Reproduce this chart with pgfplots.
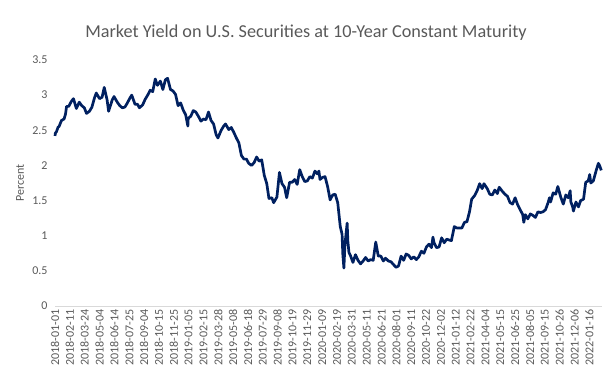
\documentclass[border=0pt]{standalone}
\usepackage{pgfplots}
\pgfplotsset{compat=1.18}
\usepackage{fontspec}
\setmainfont{Carlito}
\definecolor{navy}{HTML}{002060}
\definecolor{txt}{HTML}{595959}
\definecolor{axl}{HTML}{D9D9D9}
\begin{document}
\begin{tikzpicture}[x=1pt,y=1pt]
\useasboundingbox (0,0) rectangle (615,388);
\begin{axis}[
  at={(55pt,82pt)}, anchor=south west,
  width=547pt, height=246pt, scale only axis,
  xmin=0, xmax=1511, ymin=0, ymax=3.5,
  axis x line=bottom, axis y line=left,
  x axis line style={draw=axl, line width=0.8pt, -},
  y axis line style={draw=none},
  major tick length=0pt,
  ytick={0,0.5,1,1.5,2,2.5,3,3.5},
  yticklabels={0,0.5,1,1.5,2,2.5,3,3.5},
  yticklabel style={font=\fontsize{12}{14}\selectfont, text=txt, xshift=-4pt},
  xtick={0,41,...,1476},
  xticklabels={2018-01-01,2018-02-11,2018-03-24,2018-05-04,2018-06-14,2018-07-25,2018-09-04,2018-10-15,2018-11-25,2019-01-05,2019-02-15,2019-03-28,2019-05-08,2019-06-18,2019-07-29,2019-09-08,2019-10-19,2019-11-29,2020-01-09,2020-02-19,2020-03-31,2020-05-11,2020-06-21,2020-08-01,2020-09-11,2020-10-22,2020-12-02,2021-01-12,2021-02-22,2021-04-04,2021-05-15,2021-06-25,2021-08-05,2021-09-15,2021-10-26,2021-12-06,2022-01-16},
  xticklabel style={font=\fontsize{12}{14}\selectfont, text=txt, rotate=90, anchor=east, yshift=0pt},
  clip=false,
]
\addplot[navy, line width=2.7pt, line join=round] coordinates {
(0,2.42)(1,2.46)(4,2.48)(9,2.55)(11,2.55)(18,2.64)(25,2.66)(29,2.73)(32,2.84)(38,2.84)(45,2.91)(51,2.95)(59,2.81)(67,2.90)(74,2.85)(81,2.82)(87,2.74)(95,2.77)(102,2.83)(109,2.96)(114,3.03)(123,2.95)(130,2.97)(136,3.11)(144,2.93)(148,2.77)(158,2.93)(163,2.98)(172,2.90)(179,2.85)(186,2.82)(193,2.83)(200,2.89)(207,2.96)(212,3.00)(221,2.87)(228,2.87)(233,2.82)(242,2.86)(249,2.94)(256,3.00)(263,3.07)(270,3.05)(277,3.23)(283,3.14)(291,3.20)(298,3.08)(305,3.22)(311,3.24)(319,3.08)(326,3.06)(333,3.01)(340,2.85)(347,2.89)(354,2.79)(361,2.72)
(367,2.56)(368,2.67)(375,2.70)(382,2.78)(389,2.76)(396,2.70)(403,2.63)(410,2.66)(417,2.65)(424,2.76)(431,2.64)(438,2.59)(445,2.44)(450,2.39)(459,2.50)(466,2.56)(471,2.59)(480,2.51)(487,2.54)(494,2.47)(501,2.39)(508,2.32)(515,2.14)(522,2.09)(529,2.09)(535,2.03)(543,2.00)(550,2.04)(557,2.12)(564,2.06)(571,2.08)(578,1.86)(585,1.74)(591,1.53)(599,1.54)(604,1.47)(613,1.55)(620,1.90)(627,1.74)(634,1.69)(640,1.54)(648,1.76)(655,1.76)(662,1.80)(669,1.73)(676,1.94)(683,1.84)(690,1.77)(697,1.78)(704,1.84)(711,1.82)(718,1.92)(725,1.88)(729,1.92)
(732,1.80)(739,1.83)(746,1.84)(753,1.70)(760,1.51)(767,1.58)(774,1.59)(781,1.47)(788,1.13)(793,1.02)(795,0.74)(798,0.54)(801,0.88)(807,1.18)(809,0.92)(812,0.76)(816,0.72)(823,0.62)(830,0.73)(837,0.65)(844,0.60)(851,0.64)(858,0.69)(865,0.64)(872,0.66)(879,0.65)(886,0.91)(893,0.71)(900,0.71)(907,0.64)(913,0.68)(921,0.64)(928,0.63)(935,0.59)(942,0.55)(949,0.57)(956,0.71)(963,0.65)(970,0.74)(977,0.72)(984,0.67)(991,0.70)(998,0.66)(1005,0.70)(1012,0.78)(1019,0.75)(1026,0.84)(1033,0.88)(1040,0.83)(1044,0.98)(1047,0.90)(1054,0.83)(1061,0.84)(1068,0.97)(1075,0.90)(1082,0.95)(1088,0.94)(1095,0.93)
(1103,1.13)(1110,1.11)(1117,1.11)(1124,1.11)(1131,1.19)(1138,1.20)(1145,1.34)(1151,1.52)(1159,1.57)(1166,1.64)(1173,1.74)(1180,1.67)(1185,1.74)(1194,1.67)(1201,1.59)(1208,1.58)(1215,1.65)(1222,1.60)(1227,1.69)(1236,1.63)(1243,1.59)(1250,1.56)(1257,1.47)(1264,1.45)(1271,1.54)(1278,1.44)(1285,1.37)(1292,1.30)(1295,1.19)(1299,1.30)(1306,1.24)(1313,1.31)(1320,1.29)(1327,1.26)(1334,1.34)(1341,1.33)(1348,1.34)(1355,1.37)(1362,1.47)(1366,1.54)(1369,1.48)(1376,1.61)(1383,1.59)(1389,1.70)(1397,1.55)(1404,1.45)(1411,1.58)(1418,1.54)(1423,1.64)(1425,1.48)(1430,1.41)(1432,1.35)(1439,1.48)(1446,1.41)(1452,1.50)(1460,1.52)
(1466,1.76)(1473,1.78)(1477,1.87)(1480,1.75)(1487,1.78)(1495,1.93)(1501,2.03)(1505,1.99)(1509,1.93)
};
\end{axis}
\node[text=txt, font=\fontsize{18.2}{22}\selectfont] at (306,355) {Market Yield on U.S. Securities at 10-Year Constant Maturity};
\node[text=txt, font=\fontsize{12}{14}\selectfont, rotate=90] at (20,205) {Percent};
\end{tikzpicture}
\end{document}
